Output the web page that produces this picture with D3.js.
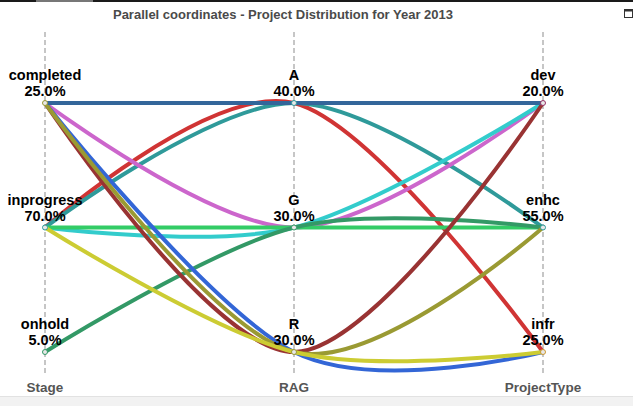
<!DOCTYPE html>
<html><head><meta charset="utf-8">
<script src="https://cdn.jsdelivr.net/npm/d3@7"></script>
<style>
html,body{margin:0;padding:0;background:#fff;overflow:hidden;}
svg{display:block;font-family:"Liberation Sans",Arial,sans-serif;}
</style></head>
<body>
<svg id="chart" width="633" height="406"></svg>
<script>
// ---- data ----
const title = "Parallel coordinates - Project Distribution for Year 2013";
const dimensions = ["Stage", "RAG", "ProjectType"];
const stageCats = ["completed", "inprogress", "onhold"];
const ragCats = ["A", "G", "R"];
const typeCats = ["dev", "enhc", "infr"];
// unique project combinations (one entry per drawn line) and number of projects in each
const stageVals = ["inprogress","inprogress","completed","inprogress","inprogress","onhold","completed","completed","completed","inprogress","completed"];
const ragVals   = ["A","A","G","G","G","G","R","R","R","R","A"];
const typeVals  = ["infr","enhc","dev","dev","enhc","enhc","infr","dev","enhc","infr","dev"];
const counts    = [1,6,1,1,3,1,1,1,1,3,1];
const lineColors = ["#d03434","#2f9a9a","#cc66cc","#33cccc","#33cc66","#339966","#3366d6","#993333","#9a9a33","#cccc33","#33669a"];

// ---- layout ----
const svg = d3.select("#chart");
const W = 633, H = 406;

// window chrome
svg.append("rect").attr("x",0).attr("y",0).attr("width",W).attr("height",2).attr("fill","#1a1a1a");
svg.append("rect").attr("x",36).attr("y",0).attr("width",57).attr("height",2).attr("fill","#777");
svg.append("rect").attr("x",0).attr("y",397).attr("width",W).attr("height",9).attr("fill","#f2f2f2");
svg.append("line").attr("x1",0).attr("x2",W).attr("y1",396.5).attr("y2",396.5).attr("stroke","#e2e2e2");
svg.append("rect").attr("x",624.5).attr("y",9.5).attr("width",8).attr("height",8).attr("fill","none").attr("stroke","#333").attr("stroke-width",1);
svg.append("rect").attr("x",624.5).attr("y",9.5).attr("width",8).attr("height",2).attr("fill","#333");

svg.append("text").attr("x",283).attr("y",19).attr("text-anchor","middle")
  .attr("font-size",13).attr("font-weight","bold").attr("fill","#4a4a4a").text(title);

const x = d3.scalePoint().domain(dimensions).range([45, 543]);
const yScales = {
  Stage: d3.scalePoint().domain(stageCats).range([103, 352]),
  RAG: d3.scalePoint().domain(ragCats).range([103, 352]),
  ProjectType: d3.scalePoint().domain(typeCats).range([103, 352])
};
const total = d3.sum(counts);
const rows = stageVals.map((s,i)=>({Stage:s, RAG:ragVals[i], ProjectType:typeVals[i], n:counts[i], color:lineColors[i]}));

// axes (dashed)
dimensions.forEach(d=>{
  svg.append("line").attr("x1",x(d)).attr("x2",x(d)).attr("y1",32).attr("y2",376)
    .attr("stroke","#b4b4b4").attr("stroke-width",1.5).attr("stroke-dasharray","5,3");
  svg.append("text").attr("x",x(d)).attr("y",392).attr("text-anchor","middle")
    .attr("font-size",13.5).attr("font-weight","bold").attr("fill","#555").text(d);
});

// lines
const line = d3.line().curve(d3.curveCardinal).x(p=>p[0]).y(p=>p[1]);
svg.append("g").selectAll("path").data(rows).join("path")
  .attr("d", r => line(dimensions.map(d=>[x(d), yScales[d](r[d])])))
  .attr("fill","none").attr("stroke", r=>r.color).attr("stroke-width",4)
  .attr("stroke-linecap","round");

// category nodes and labels
const nodeColors = {completed:"#9a9a33", inprogress:"#2f9a9a", onhold:"#339966", A:"#2f9a9a", G:"#339966", R:"#9a9a33", dev:"#993366", enhc:"#2f9a9a", infr:"#cc9933"};
dimensions.forEach(d=>{
  yScales[d].domain().forEach(c=>{
    const n = d3.sum(rows.filter(r=>r[d]===c), r=>r.n);
    const cx = x(d), cy = yScales[d](c);
    svg.append("circle").attr("cx",cx).attr("cy",cy).attr("r",2.5)
      .attr("fill","#e8e8e8").attr("stroke",nodeColors[c]).attr("stroke-width",1);
    svg.append("text").attr("x",cx).attr("y",cy-23).attr("text-anchor","middle")
      .attr("font-size",14.5).attr("font-weight","bold").attr("fill","#000").text(c);
    svg.append("text").attr("x",cx).attr("y",cy-7).attr("text-anchor","middle")
      .attr("font-size",14.5).attr("font-weight","bold").attr("fill","#000")
      .text(d3.format(".1f")(n/total*100)+"%");
  });
});
</script>
</body></html>
